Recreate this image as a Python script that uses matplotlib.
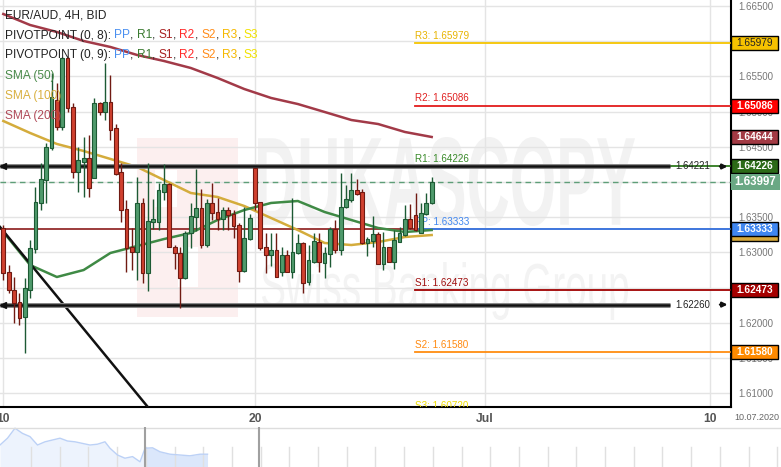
import numpy as np
import matplotlib
matplotlib.use("Agg")
import matplotlib.pyplot as plt
import matplotlib.transforms as mtransforms
from matplotlib.textpath import TextPath
from matplotlib.patches import PathPatch, Rectangle
from matplotlib.font_manager import FontProperties

plt.rcParams['font.family'] = ['Liberation Sans', 'DejaVu Sans']

# ---------------- data (EUR/AUD 4H candles) ----------------
opens = [1.63348,1.62723,1.62467,1.62297,1.62084,1.62467,1.63049,1.63703,1.64029,1.64484,
         1.65165,1.64782,1.65762,1.65066,1.64143,1.64285,1.64342,1.64058,1.65123,1.64995,
         1.65137,1.64768,1.64143,1.63617,1.63078,1.63007,1.63703,1.62709,1.63433,1.63433,
         1.63859,1.63972,1.63078,1.62993,1.62638,1.63277,1.63504,1.63632,1.63106,1.63703,
         1.63575,1.63475,1.63603,1.63546,1.63390,1.62737,1.63191,1.64200,1.63717,1.63078,
         1.62964,1.63035,1.62723,1.62964,1.62723,1.62993,1.63135,1.62581,1.62865,1.63149,
         1.62851,1.62978,1.63333,1.63035,1.63646,1.63745,1.63887,1.63859,1.63135,1.63163,
         1.63262,1.62836,1.63078,1.62865,1.63149,1.63248,1.63475,1.63532,1.63277,1.63546,
         1.63703]
highs = [1.63390,1.62822,1.62652,1.62425,1.62638,1.63177,1.63930,1.64271,1.64555,1.65549,
         1.65407,1.65776,1.65776,1.65123,1.64498,1.64640,1.64668,1.65194,1.65137,1.65691,
         1.65520,1.64824,1.64271,1.63745,1.63348,1.64072,1.63774,1.64271,1.63759,1.63987,
         1.64256,1.63987,1.63106,1.63078,1.63305,1.63703,1.64185,1.63901,1.63759,1.63987,
         1.63774,1.63646,1.63646,1.63603,1.63419,1.63646,1.63546,1.64200,1.63717,1.63277,
         1.63277,1.63277,1.63078,1.63035,1.63774,1.63262,1.63149,1.63106,1.63277,1.63277,
         1.63078,1.63362,1.63461,1.64129,1.63958,1.64129,1.64043,1.63901,1.63220,1.63518,
         1.63291,1.63291,1.63078,1.63319,1.63362,1.63674,1.63688,1.63845,1.63703,1.63845,
         1.64072]
lows = [1.62609,1.62425,1.61999,1.61970,1.61573,1.62354,1.62993,1.63603,1.63703,1.64455,
        1.64739,1.64739,1.64995,1.64058,1.63859,1.63788,1.63788,1.64058,1.64952,1.64881,
        1.64597,1.64100,1.63433,1.62723,1.62751,1.62609,1.62567,1.62453,1.63333,1.63319,
        1.63745,1.63078,1.62765,1.62212,1.62623,1.63064,1.63305,1.63064,1.63078,1.63461,
        1.63319,1.63319,1.63319,1.63206,1.62581,1.62723,1.63177,1.63603,1.63035,1.62709,
        1.62808,1.62652,1.62666,1.62723,1.62638,1.62978,1.62425,1.62538,1.62851,1.62723,
        1.62638,1.62794,1.62993,1.62964,1.63632,1.63717,1.63816,1.63120,1.62950,1.63078,
        1.62836,1.62751,1.62865,1.62765,1.63149,1.63234,1.63333,1.63305,1.63277,1.63532,
        1.63688]
closes = [1.62709,1.62467,1.62283,1.62070,1.62496,1.63064,1.63717,1.64043,1.64498,1.65208,
          1.64782,1.65762,1.65052,1.64143,1.64313,1.64342,1.63916,1.65123,1.64995,1.65137,
          1.64739,1.64114,1.63603,1.63064,1.63007,1.63703,1.62709,1.63447,1.63475,1.63887,
          1.63972,1.63078,1.62993,1.62638,1.63277,1.63518,1.63632,1.63106,1.63703,1.63561,
          1.63475,1.63603,1.63532,1.63376,1.62737,1.63206,1.63490,1.63703,1.63064,1.62964,
          1.63035,1.62652,1.62964,1.62723,1.63007,1.63135,1.62567,1.62893,1.63163,1.62865,
          1.62993,1.63333,1.63035,1.63646,1.63759,1.63887,1.63830,1.63135,1.63191,1.63262,
          1.62836,1.63078,1.62865,1.63177,1.63277,1.63475,1.63348,1.63319,1.63561,1.63703,
          1.63997]

# moving averages read at every 5th candle
sma_idx = [0, 5, 10, 15, 20, 25, 30, 35, 40, 45, 50, 55, 60, 65, 70, 75, 80]
sma50 = [1.63291,1.62822,1.62652,1.62751,1.62993,1.63092,1.63191,1.63277,1.63461,
         1.63603,1.63703,1.63731,1.63575,1.63461,1.63348,1.63291,1.63319]
sma100 = [1.64867,1.64697,1.64541,1.64441,1.64328,1.64214,1.64029,1.63845,1.63788,
          1.63660,1.63490,1.63319,1.63135,1.63106,1.63149,1.63220,1.63248]
sma200 = [1.66386,1.66230,1.66131,1.66003,1.65918,1.65804,1.65719,1.65620,1.65478,
          1.65321,1.65194,1.65108,1.64995,1.64881,1.64824,1.64711,1.64640]

# pivot points
pivot_names = ["R3", "R2", "R1", "PP", "S1", "S2", "S3"]
pivot_values = [1.65979, 1.65086, 1.64226, 1.63333, 1.62473, 1.61580, 1.60720]
pivot_start = 76.9

# horizontal levels and trendline
levels = [1.64221, 1.62260]
current_price = 1.63997
sma200_last = 1.64644
sma100_last = 1.63262
trend_x = [-0.62, 30.0]
trend_p = [1.63362, 1.60527]

# axis ticks
xtick_pos = [0, 47, 90, 132]
xtick_labels = ["10", "20", "Jul", "10"]
ytick_values = [1.610, 1.615, 1.620, 1.625, 1.630, 1.635, 1.640, 1.645, 1.650, 1.655, 1.660, 1.665]

# navigator (overview) series, x in % of width, value 0..1
nav_t = [0, 0.96, 1.92, 2.88, 3.84, 4.80, 5.76, 6.72, 7.68, 8.64, 9.60, 10.56, 11.52, 12.48,
         13.44, 14.08, 15.04, 16.0, 16.97, 17.93, 18.57, 19.53, 20.49, 21.77, 23.05, 24.33,
         25.61, 26.57]
nav_v = [0.55, 0.72, 0.97, 0.84, 0.76, 0.55, 0.63, 0.675, 0.72, 0.65, 0.63, 0.59, 0.55, 0.57,
         0.63, 0.47, 0.30, 0.22, 0.26, 0.13, 0.47, 0.48, 0.38, 0.32, 0.30, 0.28, 0.32, 0.32]
nav_sel = [18.57, 33.16]

# ---------------- figure ----------------
W, H = 781, 467
fig = plt.figure(figsize=(W / 100, H / 100), dpi=100)
ax = fig.add_axes([0, 1 - 407 / H, 731 / W, 407 / H])
blend = mtransforms.blended_transform_factory(ax.transAxes, ax.transData)

# watermark
def fit_text(s, box, color, weight='normal', z=0.3):
    fp = FontProperties(family='Liberation Sans', weight=weight)
    tp = TextPath((0, 0), s, size=100, prop=fp)
    ext = tp.get_extents()
    x0, y0, x1, y1 = box
    sx = (x1 - x0) / ext.width
    sy = (y1 - y0) / ext.height
    tr = (mtransforms.Affine2D().translate(-ext.x0, -ext.y0).scale(sx / W, sy / H)
          .translate(x0 / W, 1 - y1 / H) + fig.transFigure)
    ax.add_artist(PathPatch(tp, transform=tr, fc=color, ec='none', zorder=z))

def px_rect(x0, y0, x1, y1, color, z):
    ax.add_artist(Rectangle((x0 / W, 1 - y1 / H), (x1 - x0) / W, (y1 - y0) / H,
                            transform=fig.transFigure, fc=color, ec='none', zorder=z))

px_rect(137, 138, 238, 317, '#fcefef', 0.2)
px_rect(155, 170, 177, 207, 'white', 0.25)
px_rect(178, 247, 198, 287, 'white', 0.25)
fit_text("DUKASCOPY", (258, 137, 635, 226), '#f2f2f2', weight='bold')
fit_text("Swiss Banking Group", (262, 262, 628, 320), '#f3f3f3')

# grid
ax.set_axisbelow(True)
ax.grid(True, color='#e4e4e4', lw=1)

# SMAs
ax.plot(sma_idx, sma200, color='#a23a48', lw=1.8, zorder=3)
ax.plot(sma_idx, sma100, color='#d4ac3c', lw=1.8, zorder=3)
ax.plot(sma_idx, sma50, color='#3f8a45', lw=1.8, zorder=3)

# trendline
ax.plot(trend_x, trend_p, color='#111111', lw=1.8, zorder=3)

# full-width previous pivot line
ax.plot([0, 1], [pivot_values[3]] * 2, transform=blend, color='#8b1a1a', lw=1.2, zorder=2.5)

# pivot lines & labels
pv_colors = ['#f5c400', '#e31b1b', '#2e7a1e', '#3a80ee', '#a00000', '#ff8c10', '#f0e000']
pv_text_colors = ['#e8b400', '#e02020', '#3a8a2a', '#3f86f0', '#a01010', '#ff8a10', '#eedd00']
for name, val, c, tc in zip(pivot_names, pivot_values, pv_colors, pv_text_colors):
    ax.plot([pivot_start, 200], [val, val], color=c, lw=1.3, zorder=2.6)
    ax.annotate(f"{name}: {val:.5f}", xy=(pivot_start, val), xytext=(0, 1.5),
                textcoords='offset points', va='bottom', ha='left', fontsize=7.1,
                color=tc, annotation_clip=False, clip_on=True, zorder=4)

# current price dashed line
ax.axhline(current_price, color='#5e9e78', lw=1, ls=(0, (4, 3)), zorder=2.7)

# black horizontal levels with arrows
for lv in levels:
    ax.plot([0, 0.9166], [lv, lv], transform=blend, color='#8a8a8a', lw=3.6, zorder=5,
            solid_capstyle='butt')
    ax.plot([0, 0.9166], [lv, lv], transform=blend, color='#111111', lw=1.8, zorder=5.1,
            solid_capstyle='butt')
    ax.plot([0.004], [lv], transform=blend, marker='<', ms=5, color='#111111',
            clip_on=False, zorder=5.2)
    ax.text(0.948, lv, f"{lv:.5f}", transform=blend, ha='center', va='center',
            fontsize=6.9, color='#222222', zorder=5.2)
    ax.annotate('', xy=(0.999, lv), xytext=(0.981, lv), xycoords=blend, textcoords=blend,
                arrowprops=dict(arrowstyle='-|>', color='#111111', lw=1.6, mutation_scale=7),
                zorder=5.2, annotation_clip=False)

# candles
idx = np.arange(len(opens))
o = np.array(opens); c = np.array(closes); h = np.array(highs); l = np.array(lows)
up = c >= o
g_fill, g_edge = '#4f9a6c', '#1d5a34'
r_fill, r_edge = '#d0412f', '#701a12'
ax.vlines(idx[up], l[up], h[up], color=g_edge, lw=1, zorder=6)
ax.vlines(idx[~up], l[~up], h[~up], color=r_edge, lw=1, zorder=6)
body_lo = np.minimum(o, c); body_h = np.maximum(np.abs(c - o), 0.00003)
ax.bar(idx[up], body_h[up], bottom=body_lo[up], width=0.7, color=g_fill,
       edgecolor=g_edge, lw=0.8, zorder=6.5)
ax.bar(idx[~up], body_h[~up], bottom=body_lo[~up], width=0.7, color=r_fill,
       edgecolor=r_edge, lw=0.8, zorder=6.5)

# legend text block (top left)
dark = '#222222'
def rich_line(y_px, pieces, fs=8.6):
    t = ax.text(5 / 731, 1 - y_px / 407, pieces[0][0], color=pieces[0][1], fontsize=fs,
                transform=ax.transAxes, va='center', ha='left', zorder=10)
    for s, col in pieces[1:]:
        t = ax.annotate(s, xy=(1, 0), xycoords=t, va='bottom', ha='left', color=col,
                        fontsize=fs, zorder=10)

pv_leg = [('PP', '#4a8ff0'), ('R1', '#3a7a30'), ('S1', '#a82020'), ('R2', '#ff2a2a'),
          ('S2', '#ff8c1a'), ('R3', '#f5b800'), ('S3', '#f2e200')]
def pv_pieces(title):
    pcs = [(title, dark)]
    for k, (n, col) in enumerate(pv_leg):
        pcs.append((n, col))
        if k < len(pv_leg) - 1:
            pcs.append((', ', dark))
    return pcs

rich_line(16, [("EUR/AUD, 4H, BID", dark)])
rich_line(35.5, pv_pieces("PIVOTPOINT (0, 8): "))
rich_line(55, pv_pieces("PIVOTPOINT (0, 9): "))
rich_line(76, [("SMA (50)", '#4a8a4a')])
rich_line(96.5, [("SMA (100)", '#d9b040')])
rich_line(116, [("SMA (200)", '#b04a58')])

# axes formatting
ax.set_xlim(-0.62, 135.9)
ax.set_ylim(1.60806, 1.66585)
for s in ['left', 'top']:
    ax.spines[s].set_visible(False)
for s in ['right', 'bottom']:
    ax.spines[s].set_color('black')
    ax.spines[s].set_linewidth(1.5)
ax.yaxis.tick_right()
ax.set_yticks(ytick_values)
ax.set_yticklabels([f"{v:.5f}" for v in ytick_values])
ax.tick_params(axis='y', length=0, pad=5, labelsize=7, labelcolor='#777777')
ax.set_xticks(xtick_pos)
ax.set_xticklabels(xtick_labels)
ax.tick_params(axis='x', length=0, pad=4, labelsize=8.7, labelcolor='#555555')
for lab in ax.get_xticklabels():
    lab.set_fontweight('bold')
fig.text(757 / W, 1 - 417 / H, "10.07.2020", ha='center', va='center', fontsize=6.5,
         color='#666666')

# right-side price tags
def tag(val, fc, tc, ec='black', fs=7.3, hpx=14, wfrac=47 / 731, bold=True, z=7):
    hh = hpx * (1.66585 - 1.60806) / 407
    ax.add_patch(Rectangle((1.0, val - hh / 2), wfrac, hh, transform=blend, fc=fc, ec=ec,
                           lw=1, clip_on=False, zorder=z))
    ax.text(1.0 + wfrac / 2, val, f"{val:.5f}", transform=blend, ha='center', va='center',
            fontsize=fs, color=tc, fontweight='bold' if bold else 'normal', zorder=z + 0.1,
            clip_on=False)

tag(pivot_values[0], '#f7c200', '#222222', bold=False)
tag(pivot_values[1], '#ff0000', 'white')
tag(sma200_last, '#a23a44', 'white')
tag(pivot_values[2], '#2b6a17', 'white')
tag(current_price, '#6aa884', 'white', ec='none', fs=8.3, hpx=16, wfrac=49 / 731, z=7.5)
tag(sma100_last, '#d6a83a', '#222222', bold=False, z=7.6)
tag(pivot_values[3], '#3f86f0', 'white', z=7.8)
tag(pivot_values[4], '#a50000', 'white')
tag(pivot_values[5], '#ff8a00', 'white')

# navigator
nav = fig.add_axes([0, 0, 1, 40 / H])
nav.set_xlim(0, 100)
nav.set_ylim(0, 1)
nav.axis('off')
nav_t_arr = np.array(nav_t); nav_v_arr = np.array(nav_v)
nav.fill_between(nav_t_arr, 0, nav_v_arr, where=nav_t_arr <= nav_sel[0] + 0.01,
                 color='#edf3fd', lw=0)
nav.fill_between(nav_t_arr, 0, nav_v_arr, where=nav_t_arr >= nav_sel[0] - 0.01,
                 color='#dbe7fb', lw=0)
for xv in np.arange(3.97, 100, 3.675):
    nav.plot([xv, xv], [0, 0.5], color='#e0e0e0', lw=1)
nav.plot(nav_t_arr, nav_v_arr, color='#bcd1f6', lw=1)
nav.plot([0, 100], [0.985, 0.985], color='#dddddd', lw=1)
for xv in nav_sel:
    nav.plot([xv, xv], [0, 1], color='#a0a0a0', lw=1.5)

fig.savefig("out.png", dpi=100)
